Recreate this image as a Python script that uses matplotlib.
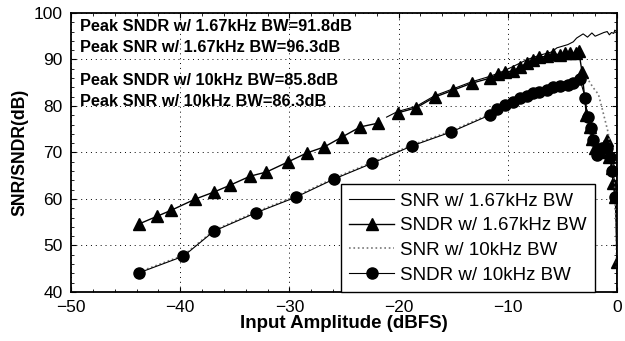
import numpy as np
import matplotlib
matplotlib.use("Agg")
import matplotlib.pyplot as plt
from matplotlib.ticker import AutoMinorLocator

plt.rcParams['font.family'] = ['Liberation Sans', 'DejaVu Sans']

# SNR w/ 1.67kHz BW (thin solid)
snr_167_x = [-21.1, -20.1, -18.4, -16.7, -15.0, -13.3, -11.6, -10.3, -8.2, -7.1, -6.0, -5.5,
             -4.5, -4.0, -3.7, -3.1, -2.7, -2.3, -2.0, -1.6, -1.2, -0.9, -0.7, -0.5, -0.3,
             -0.2, -0.05, 0.0]
snr_167_y = [77.6, 78.8, 79.9, 82.2, 83.7, 85.2, 86.4, 87.6, 90.0, 90.9, 91.6, 92.5,
             93.2, 93.8, 94.6, 95.5, 94.8, 95.7, 95.0, 95.4, 95.8, 96.0, 95.3, 95.8, 95.6,
             96.3, 96.0, 40.4]

# SNDR w/ 1.67kHz BW (triangles)
sndr_167_x = [-43.8, -42.1, -40.8, -38.6, -36.9, -35.4, -33.6, -32.1, -30.1, -28.4, -26.8,
              -25.2, -23.5, -21.9, -21.5, -20.1, -18.4, -16.7, -15.0, -13.3, -11.6, -10.9,
              -10.3, -9.5, -8.9, -8.2, -7.7, -7.1, -6.4, -5.9, -5.2, -4.8, -4.3, -3.8, -3.5,
              -3.2, -2.8, -2.5, -2.3, -2.0, -1.6, -1.2, -0.9, -0.7, -0.45, -0.35, -0.15, 0.0]
sndr_167_y = [54.6, 56.3, 57.6, 60.0, 61.5, 63.0, 64.9, 65.8, 68.0, 69.9, 71.2,
              73.3, 75.5, 76.3, np.nan, 78.5, 79.6, 81.9, 83.4, 84.9, 86.0, 86.9,
              87.3, 87.5, 88.4, 89.2, 89.9, 90.5, 90.7, 91.2, 91.0, 91.4, 91.4, 91.4, 91.8,
              87.3, 78.0, 75.5, 73.0, 71.0, 70.0, 71.5, 72.7, 69.0, 66.7, 63.4, 60.4, 46.5]

# SNR w/ 10kHz BW (dotted)
snr_10_x = [-43.8, -39.7, -36.9, -33.1, -29.4, -25.9, -22.4, -18.8, -15.2, -11.6, -9.5,
            -7.1, -5.2, -4.0, -3.2, -2.6, -2.2, -1.7, -1.4, -1.1, -0.8, -0.6, -0.4, -0.25,
            -0.1, 0.0]
snr_10_y = [44.3, 47.9, 53.3, 57.2, 60.6, 64.5, 67.9, 71.6, 74.6, 78.3, 81.1,
            83.2, 84.5, 85.3, 86.3, 85.5, 84.0, 82.5, 79.8, 77.0, 74.2, 70.5, 67.5, 63.0,
            55.0, 42.0]

# SNDR w/ 10kHz BW (circles)
sndr_10_x = [-43.8, -39.7, -36.9, -33.1, -29.4, -25.9, -22.4, -18.8, -15.2, -11.6, -11.0,
             -10.3, -9.5, -8.9, -8.2, -7.7, -7.1, -6.4, -5.9, -5.2, -4.5, -4.0, -3.4,
             -2.9, -2.7, -2.4, -2.2, -1.8, -1.4, -0.9, -0.6, -0.45, -0.2]
sndr_10_y = [44.1, 47.7, 53.1, 57.0, 60.4, 64.3, 67.7, 71.4, 74.4, 78.1, 79.4,
             80.2, 80.9, 81.7, 82.2, 82.8, 83.0, 83.4, 84.1, 84.3, 84.5, 85.0, 85.8,
             81.7, 77.6, 75.3, 72.7, 69.5, 71.0, 71.0, 69.0, 66.0, 60.4]

notes = ["Peak SNDR w/ 1.67kHz BW=91.8dB",
         "Peak SNR w/ 1.67kHz BW=96.3dB",
         "Peak SNDR w/ 10kHz BW=85.8dB",
         "Peak SNR w/ 10kHz BW=86.3dB"]
note_y = [97.0, 92.5, 85.4, 80.9]

fig = plt.figure(figsize=(6.25, 3.41), dpi=100)
ax = fig.add_axes([0.1136, 0.1437, 0.8736, 0.8183])

ax.plot(snr_167_x, snr_167_y, color='black', lw=0.8, label='SNR w/ 1.67kHz BW')
ax.plot(sndr_167_x, sndr_167_y, color='black', lw=1.0, marker='^', ms=8,
        label='SNDR w/ 1.67kHz BW')
ax.plot(snr_10_x, snr_10_y, color='#777777', lw=1.2, ls=':', label='SNR w/ 10kHz BW')
ax.plot(sndr_10_x, sndr_10_y, color='black', lw=0.8, marker='o', ms=8,
        label='SNDR w/ 10kHz BW')

ax.set_xlim(-50, 0)
ax.set_ylim(40, 100)
ax.set_xticks(np.arange(-50, 1, 10))
ax.set_yticks(np.arange(40, 101, 10))
ax.xaxis.set_minor_locator(AutoMinorLocator(5))
ax.yaxis.set_minor_locator(AutoMinorLocator(5))
ax.tick_params(which='both', direction='in', top=True, right=True, labelsize=12.5)
ax.tick_params(axis='x', pad=6)
ax.tick_params(axis='y', pad=6)
ax.tick_params(which='minor', length=2)
ax.grid(True, which='major', ls=(0, (1, 4)), color='black', lw=0.7)
for s in ax.spines.values():
    s.set_linewidth(1.3)

ax.set_xlabel('Input Amplitude (dBFS)', fontsize=13.5, fontweight='bold', labelpad=0)
ax.set_ylabel('SNR/SNDR(dB)', fontsize=12.7, fontweight='bold', labelpad=4)

for t, y in zip(notes, note_y):
    ax.text(-49.2, y, t, fontsize=11.8, fontweight='bold', va='center', ha='left')

leg = ax.legend(loc='lower right', bbox_to_anchor=(0.96, 0.0), borderaxespad=0,
                fontsize=13.5, handlelength=2.4, fancybox=False, framealpha=1,
                edgecolor='black', labelspacing=0.4,
                handletextpad=0.3, borderpad=0.45)
leg.get_frame().set_linewidth(1.0)

fig.savefig('out.png', dpi=100)
